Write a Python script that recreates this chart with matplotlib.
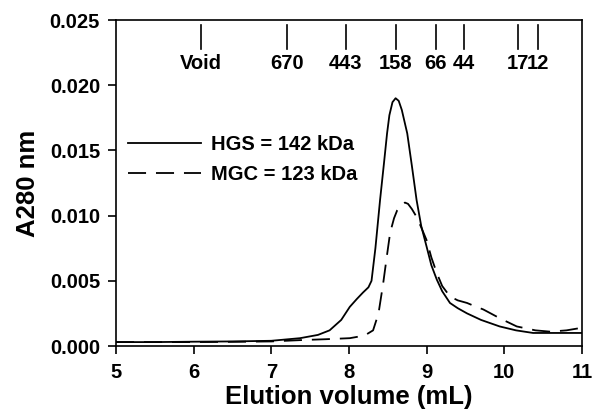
import matplotlib
matplotlib.use('Agg')
import matplotlib.pyplot as plt

plt.rcParams['font.family'] = ['Liberation Sans', 'DejaVu Sans']
plt.rcParams['font.weight'] = 'bold'

# HGS trace (solid)
hgs_x = [5.0, 5.5, 6.0, 6.5, 7.0, 7.37, 7.6, 7.75, 7.9, 8.01, 8.1, 8.18, 8.25, 8.29,
         8.34, 8.40, 8.45, 8.49, 8.52, 8.56, 8.60, 8.64, 8.68, 8.75, 8.81, 8.87, 8.93, 9.0,
         9.06, 9.13, 9.2, 9.30, 9.4, 9.52, 9.7, 9.94, 10.15, 10.37, 10.7, 11.0]
hgs_y = [0.00030, 0.00030, 0.00033, 0.00035, 0.00040, 0.00060, 0.00085, 0.0012, 0.0020,
         0.0030, 0.0036, 0.0041, 0.0045, 0.0050, 0.0075, 0.0112, 0.0140, 0.0163, 0.0177,
         0.0187, 0.0190, 0.0188, 0.0181, 0.0163, 0.0138, 0.0112, 0.0092, 0.0076, 0.0062,
         0.0051, 0.0042, 0.0033, 0.0029, 0.0025, 0.0020, 0.0015, 0.0012, 0.0010, 0.0010,
         0.0010]

# MGC trace (dashed)
mgc_x = [5.0, 5.5, 6.0, 6.5, 7.0, 7.37, 7.7, 8.01, 8.2, 8.31, 8.38, 8.44, 8.49, 8.53,
         8.58, 8.62, 8.67, 8.72, 8.76, 8.81, 8.87, 8.93, 9.0, 9.06, 9.13, 9.2, 9.30, 9.4,
         9.52, 9.6, 9.73, 9.95, 10.16, 10.4, 10.59, 10.8, 11.0]
mgc_y = [0.00030, 0.00030, 0.00030, 0.00032, 0.00035, 0.00045, 0.00052, 0.00060, 0.00080,
         0.0012, 0.0025, 0.0048, 0.0070, 0.0087, 0.0098, 0.0104, 0.0108, 0.0110, 0.0109,
         0.0105, 0.0099, 0.0091, 0.0081, 0.0068, 0.0056, 0.0046, 0.0038, 0.0035, 0.0033,
         0.0031, 0.0028, 0.0021, 0.0015, 0.0012, 0.0011, 0.0012, 0.0014]

# calibration standards
std_pos = [6.09, 7.2, 7.96, 8.60, 9.12, 9.48, 10.17, 10.43]
std_labels = ['Void', '670', '443', '158', '66', '44', '17', '12']

fig = plt.figure(figsize=(5.93, 4.18), dpi=100)
ax = fig.add_axes([116 / 593, 72 / 418, 466 / 593, 326 / 418])

ax.plot(hgs_x, hgs_y, color='black', lw=1.3, label='HGS = 142 kDa')
ax.plot(mgc_x, mgc_y, color='black', lw=1.3, dashes=(10, 5.5), label='MGC = 123 kDa')

for p, lab in zip(std_pos, std_labels):
    ax.plot([p, p], [0.02278, 0.02462], color='black', lw=1.2)
    ax.text(p, 0.0217, lab, ha='center', va='center', fontsize=14.5, fontweight='bold')

ax.set_xlim(5, 11)
ax.set_ylim(0, 0.025)
ax.set_xticks([5, 6, 7, 8, 9, 10, 11])
ax.set_yticks([0, 0.005, 0.010, 0.015, 0.020, 0.025])
ax.set_yticklabels(['0.000', '0.005', '0.010', '0.015', '0.020', '0.025'])
ax.tick_params(direction='out', length=5.5, width=1.2, labelsize=14.5, top=False, right=False)
ax.tick_params(axis='y', pad=6)
ax.tick_params(axis='x', pad=7)
for lab in ax.get_xticklabels() + ax.get_yticklabels():
    lab.set_fontweight('bold')
for s in ax.spines.values():
    s.set_linewidth(1.2)

ax.set_xlabel('Elution volume (mL)', fontsize=18.5, fontweight='bold', labelpad=2)
ax.set_ylabel('A280 nm', fontsize=18.5, fontweight='bold', labelpad=7)

ax.legend(loc='upper left', bbox_to_anchor=(12 / 466, 0.647), frameon=False,
          handlelength=3.6, handletextpad=0.5, borderpad=0, borderaxespad=0,
          prop={'weight': 'bold', 'size': 14.5}, labelspacing=0.55)

fig.savefig('out.png', dpi=100)
